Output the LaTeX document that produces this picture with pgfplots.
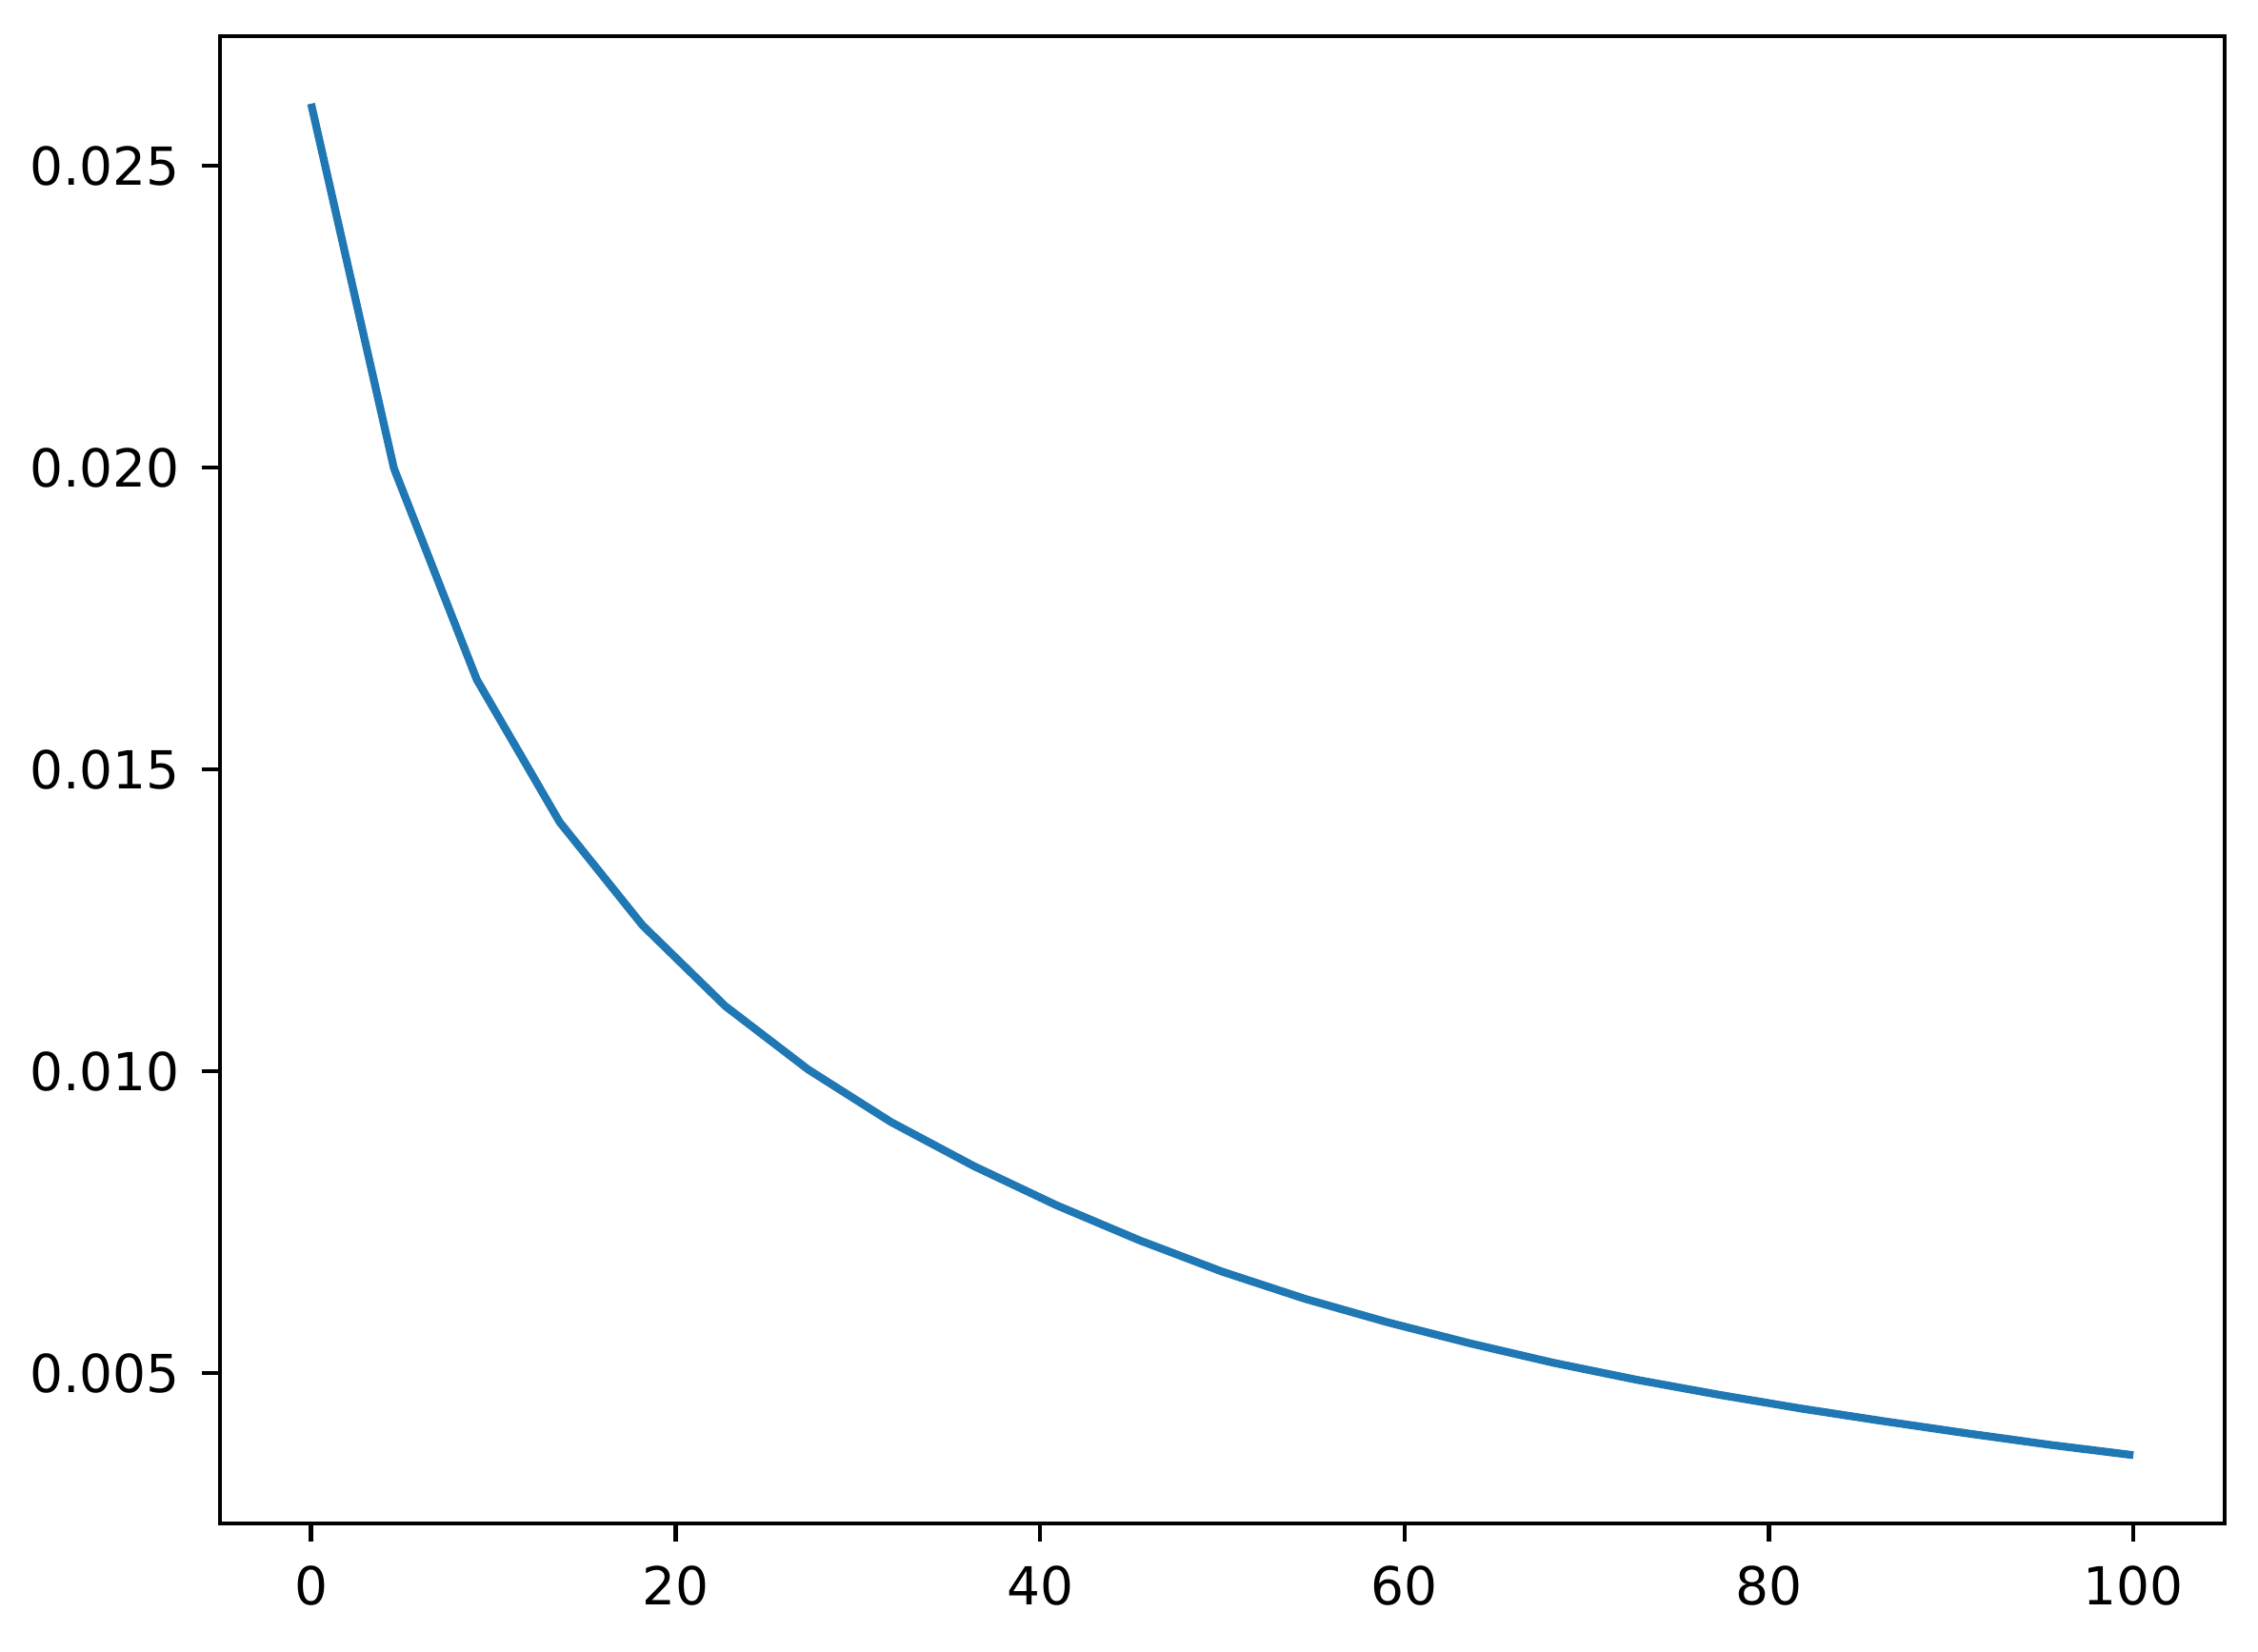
\documentclass[border=0pt]{standalone}
\usepackage{fontspec}
\setmainfont{DejaVu Sans}
\usepackage{pgfplots}
\pgfplotsset{compat=1.18}
\usetikzlibrary{calc}
\definecolor{mplblue}{RGB}{31,119,180}

\begin{document}
\begin{tikzpicture}
\begin{axis}[
  scale only axis,
  width=382.7pt, height=284pt,
  xmin=-5, xmax=105,
  ymin=0.00251, ymax=0.02715,
  xtick={0,20,40,60,80,100},
  ytick={0.005,0.010,0.015,0.020,0.025},
  tick pos=left,
  tick align=outside,
  major tick length=3.5pt,
  tick style={black, line width=0.8pt},
  axis line style={black, line width=0.8pt},
  /pgf/number format/assume math mode=true,
  every tick label/.append style={font=\fontsize{10}{12}\selectfont, inner sep=0pt},
  xticklabel style={yshift=-4.5pt},
  yticklabel style={xshift=-4pt, /pgf/number format/fixed, /pgf/number format/fixed zerofill, /pgf/number format/precision=3},
  scaled y ticks=false,
]
\addplot[mplblue, line width=1.5pt] coordinates {
  (0,0.02603) (4.545,0.01999) (9.091,0.01649) (13.636,0.01413)
  (18.182,0.01242) (22.727,0.01108) (27.273,0.01003) (31.818,0.00916)
  (36.364,0.00843) (40.909,0.00778) (45.455,0.00720) (50,0.00668)
  (54.545,0.00623) (59.091,0.00584) (63.636,0.00549) (68.182,0.00517)
  (72.727,0.00489) (77.273,0.00464) (81.818,0.00441) (86.364,0.00420)
  (90.909,0.00400) (95.455,0.00381) (100,0.00364)
};
\end{axis}
\pgfresetboundingbox
\path ($(current axis.south west)+(-42pt,-24.5pt)$) rectangle ($(current axis.north east)+(6.4pt,6.9pt)$);
\end{tikzpicture}
\end{document}
